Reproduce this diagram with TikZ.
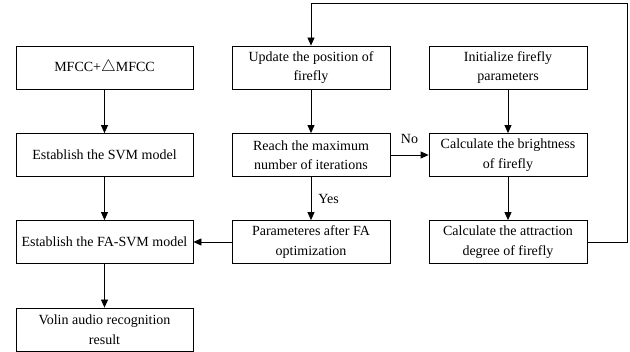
\documentclass[tikz,border=0pt]{standalone}
\usepackage{fontspec}
\setmainfont{Liberation Serif}
\usetikzlibrary{arrows.meta}
\begin{document}
\begin{tikzpicture}[x=1pt,y=-1pt,
  box/.style={draw,line width=0.8pt,minimum height=43pt,align=center,inner sep=0pt,
    font=\fontsize{14}{19.5}\selectfont},
  lbox/.style={box,minimum width=177pt},
  mbox/.style={box,minimum width=158pt},
  arr/.style={line width=0.8pt,-{Triangle[length=8pt,width=7pt]}},
  lab/.style={font=\fontsize{14}{17}\selectfont,inner sep=0pt}]
\useasboundingbox (0,0) rectangle (630,352);
\node[lbox] (l1) at (104.5,67.5) {MFCC+\scalebox{1.15}{$\triangle$}MFCC};
\node[lbox] (l2) at (104.5,155) {Establish the SVM model};
\node[lbox] (l3) at (104.5,242) {Establish the FA-SVM model};
\node[lbox] (l4) at (104.5,329.5) {Volin audio recognition\\result};
\node[mbox] (m1) at (311,67.5) {Update the position of\\firefly};
\node[mbox] (m2) at (311,155) {Reach the maximum\\number of iterations};
\node[mbox] (m3) at (311,242) {Parameteres after FA\\optimization};
\node[mbox] (r1) at (508,67.5) {Initialize firefly\\parameters};
\node[mbox] (r2) at (508,155) {Calculate the brightness\\of firefly};
\node[mbox] (r3) at (508,242) {Calculate the attraction\\degree of firefly};
\coordinate (c1) at (627,242);
\coordinate (c2) at (627,3);
\coordinate (c3) at (311,3);
\draw[arr] (l1) -- (l2);
\draw[arr] (l2) -- (l3);
\draw[arr] (l3) -- (l4);
\draw[arr] (m1) -- (m2);
\draw[arr] (m2) -- node[lab,pos=0.5,right=7pt] (yes) {Yes} (m3);
\draw[arr] (m2) -- node[lab,above=11pt,pos=0.5] (no) {No} (r2);
\draw[arr] (r1) -- (r2);
\draw[arr] (r2) -- (r3);
\draw[arr] (m3) -- (l3);
\draw[arr] (r3.east) -- (c1) -- (c2) -- (c3) -- (m1.north);
\end{tikzpicture}
\end{document}
